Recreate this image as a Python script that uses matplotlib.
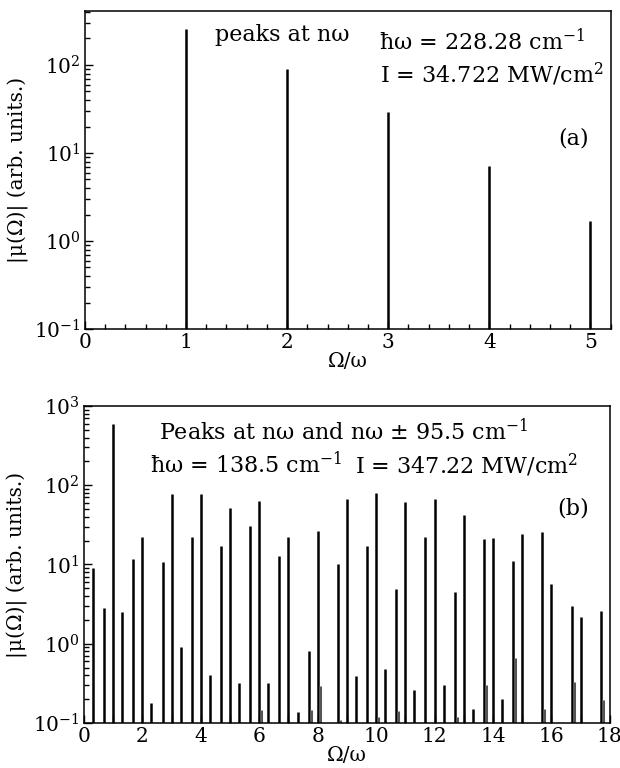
import matplotlib
matplotlib.use("Agg")
import matplotlib.pyplot as plt
from matplotlib.ticker import LogLocator, MultipleLocator, LogFormatterMathtext, NullFormatter

plt.rcParams['font.family'] = ['DejaVu Serif']
plt.rcParams['mathtext.fontset'] = 'dejavuserif'

# Panel (a): harmonics at n*omega
a_pos = [1, 2, 3, 4, 5]
a_amp = [254, 90, 29, 7.2, 1.70]

# Panel (b): harmonics and sidebands at n*omega +/- 95.5 cm^-1
b_pos = [0.31, 0.69, 1.00, 1.31, 1.69, 2.00, 2.31, 2.69, 3.00, 3.31,
         3.69, 4.00, 4.31, 4.69, 5.00, 5.31, 5.69, 6.00, 6.31, 6.69,
         7.00, 7.31, 7.69, 8.00, 8.69, 9.00, 9.31, 9.69, 10.00, 10.31,
         10.69, 11.00, 11.31, 11.69, 12.00, 12.31, 12.69, 13.00, 13.31, 13.69,
         14.00, 14.31, 14.69, 15.00, 15.69, 16.00, 16.69, 17.00, 17.69]
b_amp = [8.9, 2.8, 590, 2.5, 11.7, 22, 0.18, 10.6, 78, 0.92,
         22, 78, 0.40, 17.2, 51, 0.32, 31, 64, 0.32, 12.9,
         22.4, 0.139, 0.81, 26.5, 10.0, 67, 0.39, 17.2, 80, 0.48,
         4.9, 61, 0.26, 22, 67, 0.30, 4.5, 42, 0.15, 20.7,
         21.7, 0.20, 11, 24, 26, 5.6, 3.0, 2.2, 2.6]
# weak combination lines
c_pos = [6.07, 7.76, 8.07, 8.76, 10.07, 10.76, 12.76, 13.76, 14.76, 15.76, 16.76, 17.76]
c_amp = [0.148, 0.148, 0.295, 0.11, 0.12, 0.14, 0.12, 0.30, 0.67, 0.15, 0.33, 0.195]

fig = plt.figure(figsize=(6.2, 7.68), dpi=100)
ax1 = fig.add_axes([0.137, 0.5716, 0.848, 0.414])
ax2 = fig.add_axes([0.1355, 0.0586, 0.848, 0.4128])

fs_tick = 14.5
fs_txt = 16
base = 0.1

def style(ax):
    ax.set_yscale('log')
    ax.yaxis.set_major_locator(LogLocator(base=10, numticks=10))
    ax.yaxis.set_minor_locator(LogLocator(base=10, subs=range(2, 10), numticks=20))
    ax.yaxis.set_major_formatter(LogFormatterMathtext())
    ax.yaxis.set_minor_formatter(NullFormatter())
    ax.tick_params(which='both', direction='in', top=False, right=False,
                   labelsize=fs_tick, width=1, pad=3)
    ax.tick_params(which='major', length=6)
    ax.tick_params(which='minor', length=3.5)
    for s in ax.spines.values():
        s.set_linewidth(1.1)
    ax.set_xlabel('Ω/ω', fontsize=fs_tick, labelpad=0)
    ax.set_ylabel('|μ(Ω)| (arb. units.)', fontsize=fs_tick, labelpad=4)

# (a)
ax1.vlines(a_pos, base, a_amp, colors='black', linewidth=1.8)
ax1.set_xlim(0, 5.2)
ax1.set_ylim(0.1, 410)
style(ax1)
ax1.xaxis.set_major_locator(MultipleLocator(1))
ax1.xaxis.set_minor_locator(MultipleLocator(0.2))
ax1.text(0.375, 0.925, 'peaks at nω', transform=ax1.transAxes, fontsize=fs_txt, ha='center', va='center')
ax1.text(0.952, 0.903, 'ħω = 228.28 cm$^{-1}$', transform=ax1.transAxes, fontsize=fs_txt, ha='right', va='center')
ax1.text(0.987, 0.80, 'I = 34.722 MW/cm$^{2}$', transform=ax1.transAxes, fontsize=fs_txt, ha='right', va='center')
ax1.text(0.93, 0.60, '(a)', transform=ax1.transAxes, fontsize=fs_txt, ha='center', va='center')

# (b)
ax2.vlines(b_pos, base, b_amp, colors='black', linewidth=1.8)
ax2.vlines(c_pos, base, c_amp, colors='#555555', linewidth=2.2)
ax2.set_xlim(0, 18)
ax2.set_ylim(0.1, 1000)
style(ax2)
ax2.xaxis.set_major_locator(MultipleLocator(2))
ax2.xaxis.set_minor_locator(MultipleLocator(1))
ax2.tick_params(axis='x', which='minor', length=6)
ax2.text(0.494, 0.918, 'Peaks at nω and nω ± 95.5 cm$^{-1}$', transform=ax2.transAxes, fontsize=fs_txt, ha='center', va='center')
ax2.text(0.125, 0.814, 'ħω = 138.5 cm$^{-1}$', transform=ax2.transAxes, fontsize=fs_txt, ha='left', va='center')
ax2.text(0.939, 0.814, 'I = 347.22 MW/cm$^{2}$', transform=ax2.transAxes, fontsize=fs_txt, ha='right', va='center')
ax2.text(0.93, 0.678, '(b)', transform=ax2.transAxes, fontsize=fs_txt, ha='center', va='center')

fig.savefig('out.png', dpi=100)
